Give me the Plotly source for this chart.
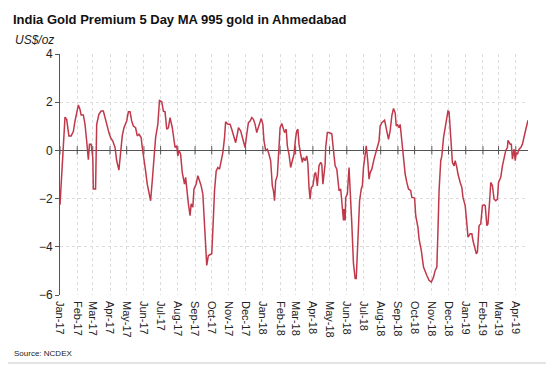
import plotly.graph_objects as go
import pandas as pd

dates = [
    "2017-01-01","2017-01-06","2017-01-10","2017-01-13","2017-01-17","2017-01-21","2017-01-25","2017-01-28",
    "2017-01-31","2017-02-03","2017-02-06","2017-02-08","2017-02-12","2017-02-15","2017-02-18","2017-02-21",
    "2017-02-23","2017-02-26","2017-03-01","2017-03-02","2017-03-06","2017-03-08","2017-03-12","2017-03-16",
    "2017-03-20","2017-03-24","2017-03-27","2017-03-30","2017-04-02","2017-04-06","2017-04-10","2017-04-13",
    "2017-04-17","2017-04-20","2017-04-23","2017-04-26","2017-05-01","2017-05-04","2017-05-07","2017-05-10",
    "2017-05-13","2017-05-17","2017-05-20","2017-05-23","2017-05-27","2017-05-29","2017-06-01","2017-06-04",
    "2017-06-07","2017-06-13","2017-06-16","2017-06-19","2017-06-22","2017-06-26","2017-06-29","2017-07-03",
    "2017-07-06","2017-07-09","2017-07-12","2017-07-15","2017-07-18","2017-07-22","2017-07-25","2017-07-27",
    "2017-07-30","2017-08-01","2017-08-03","2017-08-06","2017-08-09","2017-08-13","2017-08-15","2017-08-18",
    "2017-08-20","2017-08-23","2017-08-25","2017-08-28","2017-08-30","2017-09-03","2017-09-06","2017-09-09",
    "2017-09-12","2017-09-15","2017-09-18","2017-09-20","2017-09-22","2017-09-25","2017-09-28","2017-10-01",
    "2017-10-04","2017-10-06","2017-10-09","2017-10-12","2017-10-15","2017-10-18","2017-10-21","2017-10-24",
    "2017-10-26","2017-10-30","2017-11-03","2017-11-06","2017-11-10","2017-11-13","2017-11-16","2017-11-18",
    "2017-11-22","2017-11-27","2017-11-30","2017-12-03","2017-12-06","2017-12-09","2017-12-12","2017-12-15",
    "2017-12-18","2017-12-21","2017-12-24","2017-12-27","2017-12-29","2018-01-01","2018-01-03","2018-01-06",
    "2018-01-09","2018-01-12","2018-01-15","2018-01-18","2018-01-20","2018-01-22","2018-01-24","2018-01-27",
    "2018-01-30","2018-02-01","2018-02-04","2018-02-06","2018-02-09","2018-02-12","2018-02-14","2018-02-17",
    "2018-02-20","2018-02-23","2018-02-26","2018-03-01","2018-03-03","2018-03-05","2018-03-07","2018-03-10",
    "2018-03-13","2018-03-15","2018-03-18","2018-03-21","2018-03-23","2018-03-25","2018-03-27","2018-03-29",
    "2018-04-01","2018-04-04","2018-04-06","2018-04-09","2018-04-12","2018-04-15","2018-04-17","2018-04-19",
    "2018-04-23","2018-04-24","2018-04-27","2018-04-30","2018-05-05","2018-05-08","2018-05-11","2018-05-14",
    "2018-05-16","2018-05-18","2018-05-21","2018-05-24","2018-05-26","2018-05-27","2018-05-29","2018-05-30",
    "2018-06-02","2018-06-05","2018-06-07","2018-06-10","2018-06-13","2018-06-16","2018-06-18","2018-06-21",
    "2018-06-24","2018-06-27","2018-06-29","2018-07-01","2018-07-04","2018-07-06","2018-07-09","2018-07-11",
    "2018-07-13","2018-07-16","2018-07-20","2018-07-24","2018-07-29","2018-07-31","2018-08-03","2018-08-08",
    "2018-08-11","2018-08-15","2018-08-18","2018-08-21","2018-08-24","2018-08-27","2018-08-29","2018-08-31",
    "2018-09-03","2018-09-05","2018-09-08","2018-09-11","2018-09-14","2018-09-17","2018-09-20","2018-09-24",
    "2018-09-26","2018-10-01","2018-10-03","2018-10-07","2018-10-09","2018-10-13","2018-10-17","2018-10-23",
    "2018-10-27","2018-10-31","2018-11-04","2018-11-07","2018-11-10","2018-11-12","2018-11-14","2018-11-17",
    "2018-11-19","2018-11-22","2018-11-25","2018-11-28","2018-11-30","2018-12-02","2018-12-05","2018-12-08",
    "2018-12-11","2018-12-13","2018-12-16","2018-12-18","2018-12-22","2018-12-25","2018-12-27","2018-12-31",
    "2019-01-03","2019-01-05","2019-01-09","2019-01-12","2019-01-14","2019-01-17","2019-01-20","2019-01-22",
    "2019-01-25","2019-01-28","2019-01-31","2019-02-03","2019-02-05","2019-02-08","2019-02-10","2019-02-13",
    "2019-02-15","2019-02-18","2019-02-21","2019-02-24","2019-02-27","2019-03-01","2019-03-05","2019-03-08",
    "2019-03-11","2019-03-14","2019-03-17","2019-03-18","2019-03-22","2019-03-24","2019-03-26","2019-03-29",
    "2019-03-31","2019-04-02","2019-04-04","2019-04-07","2019-04-10","2019-04-13","2019-04-17","2019-04-20",
    "2019-04-23",
]

premium = [
    -2.25, 0.00, 1.38, 1.29, 0.60, 0.60, 0.78, 1.22,
    1.63, 1.88, 1.70, 1.47, 1.47, 1.08, 0.39, -0.39,
    0.26, 0.26, -0.30, -1.60, -1.60, 1.08, 1.50, 1.63,
    1.63, 1.22, 0.94, 0.74, 0.53, 0.39, 0.12, -0.43,
    -0.82, 0.00, 0.60, 0.94, 1.22, 1.60, 1.60, 1.22,
    1.01, 0.94, 0.60, 0.67, 0.53, 0.12, -0.50, -0.85,
    -1.40, -2.09, -1.26, -0.30, 0.53, 1.08, 2.07, 2.02,
    1.63, 1.60, 0.88, 0.94, 1.36, 0.94, 0.53, 0.12,
    0.19, -0.23, 0.00, -0.16, -0.92, -1.40, -1.12, -1.95,
    -2.22, -2.71, -2.22, -2.36, -1.60, -1.40, -1.05, -1.26,
    -1.47, -1.81, -3.05, -4.43, -4.77, -4.36, -4.32, -4.29,
    -2.78, -1.67, -0.85, -0.71, -0.78, -0.43, -0.09, 0.53,
    1.19, 1.08, 1.08, 0.88, 0.60, 0.32, 0.67, 0.94,
    0.81, 0.39, 0.12, 0.67, 1.15, 1.22, 1.36, 1.29,
    1.08, 0.74, 0.94, 1.15, 1.33, 1.08, 0.39, 0.00,
    0.05, -0.16, -0.43, -1.47, -1.67, -2.09, -1.26, -1.05,
    0.00, 0.94, 1.12, 0.92, 0.74, 0.88, 0.19, -0.16,
    -0.71, -0.43, -0.16, 0.53, 0.81, 0.88, 0.26, -0.16,
    -0.50, -0.30, -0.43, -0.23, -0.57, -1.54, -2.02, -1.54,
    -1.47, -0.98, -0.92, -1.47, -0.64, -0.50, -0.57, -1.40,
    -0.57, 0.12, 0.74, 0.74, 0.69, 0.00, -0.64, -0.78,
    -1.26, -1.67, -1.60, -2.43, -2.91, -2.43, -2.91, -1.95,
    -1.81, -0.71, -1.54, -3.05, -4.70, -5.32, -5.32, -3.74,
    -2.09, -1.60, -1.47, -0.71, 0.00, 0.19, -0.50, -1.19,
    -0.92, -0.78, -0.36, 0.00, 0.39, 1.01, 1.15, 1.25,
    0.88, 0.46, 0.81, 1.43, 1.74, 1.56, 1.01, 1.08,
    0.94, 1.08, 0.39, -0.43, -0.98, -1.33, -1.60, -1.67,
    -1.95, -1.98, -2.71, -3.19, -3.67, -4.15, -4.84, -5.19,
    -5.39, -5.46, -5.26, -4.98, -4.84, -3.33, -1.67, -0.43,
    -0.23, 0.53, 0.94, 1.43, 1.63, 1.60, 0.39, -0.50,
    -0.64, -0.43, -0.71, -0.98, -1.33, -1.54, -1.95, -2.29,
    -3.05, -3.60, -3.46, -3.46, -3.74, -4.08, -4.29, -4.22,
    -3.12, -3.05, -2.29, -2.26, -2.29, -3.12, -3.05, -2.09,
    -1.33, -1.47, -2.02, -2.09, -2.02, -1.33, -1.12, -0.64,
    -0.23, 0.00, 0.12, 0.42, 0.26, 0.26, -0.36, 0.05,
    -0.43, -0.09, -0.16, 0.05, 0.12, 0.26, 0.67, 1.01,
    1.25,
]

y_ticks = [4, 2, 0, -2, -4, -6]
x_range = ["2017-01-01", "2019-04-23"]
month_ticks = [d.strftime("%Y-%m-%d") for d in pd.date_range("2017-01-01", "2019-04-01", freq="MS")]

# page offset of the figure (default body margin) is 8px
W, H = 546, 358
L, R, T, B = 52, 26, 46, 71
pw, ph = W - L - R, H - T - B

def px_x(p):
    return (p - L) / pw

def px_y(p):
    return (H - B - p) / ph

fig = go.Figure()

fig.add_trace(go.Scatter(
    x=month_ticks, y=[0] * len(month_ticks), mode="markers",
    marker=dict(symbol="line-ns", size=6, line=dict(width=1, color="#555555")),
    hoverinfo="skip", showlegend=False,
))

fig.add_trace(go.Scatter(
    x=dates, y=premium, mode="lines",
    line=dict(color="#C0394B", width=1.5),
    showlegend=False,
))

fig.update_layout(
    width=W, height=H,
    margin=dict(l=L, r=R, t=T, b=B, autoexpand=False),
    paper_bgcolor="white", plot_bgcolor="white",
    font=dict(family="Arial, Liberation Sans, sans-serif", color="#222222", size=11),
    title=dict(
        text="<b>India Gold Premium 5 Day MA 995 gold in Ahmedabad</b>",
        x=5 / W, xanchor="left", xref="container",
        y=1 - 11 / H, yanchor="middle", yref="container",
        font=dict(size=13, color="#111111"),
        automargin=False,
    ),
    xaxis=dict(
        type="date", range=x_range, automargin=False,
        tickvals=month_ticks, tickformat="%b-%y", tickangle=90,
        ticklabelstandoff=5,
        showgrid=True, gridcolor="#dcdcdc", griddash="dot", gridwidth=1,
        showline=False, ticks="", zeroline=False,
        tickfont=dict(size=11, color="#222222"),
    ),
    yaxis=dict(
        range=[-6, 4], tickvals=y_ticks, automargin=False,
        showgrid=True, gridcolor="#dcdcdc", griddash="dot", gridwidth=1,
        showline=True, linecolor="#555555", linewidth=1,
        ticks="outside", ticklen=4, tickcolor="#555555",
        zeroline=True, zerolinecolor="#555555", zerolinewidth=1,
        tickfont=dict(size=12, color="#222222"),
    ),
    annotations=[
        dict(text="<i>US$/oz</i>", xref="paper", yref="paper",
             x=px_x(5), y=px_y(32), xanchor="left", yanchor="middle",
             showarrow=False, font=dict(size=12, color="#222222")),
        dict(text="Source: NCDEX", xref="paper", yref="paper",
             x=px_x(4), y=px_y(345), xanchor="left", yanchor="middle",
             showarrow=False, font=dict(size=8, color="#222222")),
    ],
    shapes=[
        dict(type="rect", xref="paper", yref="paper",
             x0=px_x(-7), x1=px_x(543), y0=px_y(355), y1=px_y(-5),
             line=dict(color="#e4e4e4", width=2), layer="below"),
    ],
)

fig.write_html("out.html")
